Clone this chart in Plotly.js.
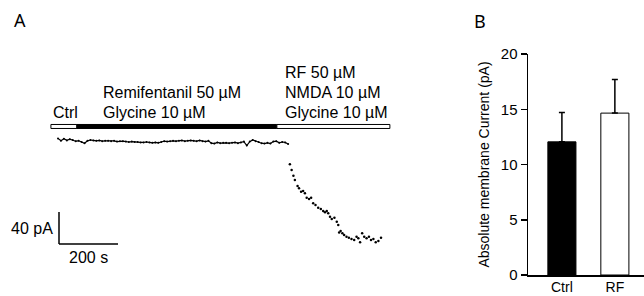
<!DOCTYPE html>
<html>
<head>
<meta charset="utf-8">
<script src="https://cdn.plot.ly/plotly-3.0.1.min.js"></script>
<style>html,body{margin:0;padding:0;background:#fff;}#chart{width:644px;height:296px;}</style>
</head>
<body>
<div id="chart"></div>
<script>
// ---------- Panel A data: whole-cell current trace ----------
// baseline (Ctrl + Remifentanil/Glycine) period, time in s, current in pA
const baselineTime = [0,10,20,30,40,50,60,70,80,90,100,110,120,130,140,150,160,170,180,190,200,210,220,230,240,250,260,270,280,290,300,310,320,330,340,350,360,370,380,390,400,410,420,430,440,450,460,470,480,490,500,510,520,530,540,550,560,570,580,590,600,610,620,630,640,650,660,670,680,690,700,710,720,730,740,750,760,770,780];
const baselineCurrent = [2,-1,1.5,-0.5,1,0,-1.5,-1,-2.5,-4,-1,0,-0.5,-1,-0.5,-1.5,-1,-1,-1.5,-1,-2,-1.5,-1.5,-2,-2.5,-2,-2.5,-2.5,-3,-3,-2.5,-3,-3.5,-3,-3.5,-2.5,-1.5,-2,-1.5,-1,-1.5,-1,-0.5,-1.5,-1,-0.5,-1,-1.5,-0.5,-1.5,-2,-1,-4,-4.5,-3,-4,-3.5,-3.5,-4,-3.5,-3,-4,-3,-2,-7,-2,0,-1.5,-2.5,-4,-4.5,-3.5,-4.5,-2,-1.5,-3.5,-2.5,-3,-5];
// RF + NMDA + Glycine period
const nmdaTime = [786,792,798,803,812,817,824,831,837,843,851,858,865,873,882,891,899,905,911,916,922,928,937,945,950,953,958,964,970,978,986,995,1004,1012,1018,1024,1031,1038,1046,1054,1061,1069,1077,1086,1095];
const nmdaCurrent = [-30.4,-37.5,-44.6,-50,-57.5,-60.4,-64.6,-63.8,-66.6,-72.1,-73.8,-72.1,-79.1,-81.3,-84.6,-86.3,-88.8,-90.4,-88.8,-91.6,-95.9,-98.8,-97.1,-102.1,-106.3,-115.6,-113.8,-116.6,-118.8,-120.9,-122.1,-123.8,-125,-120.9,-122.9,-127.9,-116.6,-120.9,-122.9,-120.9,-125,-123.8,-127.9,-126.3,-122.1];

// drug application periods (s)
const periodStart = [-24, 64, 742];
const periodEnd = [64, 742, 1125];
const periodLabels = ['Ctrl', 'Remifentanil 50 µM<br>Glycine 10 µM', 'RF 50 µM<br>NMDA 10 µM<br>Glycine 10 µM'];
const periodFilled = [false, true, false];

// scale bar
const scaleTime = 200;      // s
const scaleCurrent = 40;    // pA
const scaleTimeLabel = '200 s';
const scaleCurrentLabel = '40 pA';

// ---------- Panel B data ----------
const groups = ['Ctrl', 'RF'];
const meanCurrent = [12.05, 14.65];
const semCurrent = [2.65, 3.05];
const yTicks = [0, 5, 10, 15, 20];

// ---------- layout geometry ----------
const W = 644, H = 296;
const spp = 200 / 59;          // seconds per pixel in panel A
const ppa = 1.25;              // pA per pixel in panel A
const x0px = 58, y0px = 140;   // pixel of t=0, I=0
const aRight = 425;
const fontA = 'Liberation Sans, Arial, sans-serif';

const barY0 = 14.4, barY1 = 19.4;
const labelX = [-23.7, 145.8, 762.7];
const labelBaseY = 35, labelStep = 24.4;
const sbX = 3.4, sbTopY = -90;

const shapes = [];
periodStart.forEach((s, i) => {
  shapes.push({type: 'rect', xref: 'x', yref: 'y', x0: s, x1: periodEnd[i], y0: barY0, y1: barY1,
    fillcolor: periodFilled[i] ? '#000' : '#fff', line: {color: '#000', width: 1}});
});
shapes.push({type: 'line', xref: 'x', yref: 'y', x0: sbX, x1: sbX, y0: sbTopY, y1: sbTopY - scaleCurrent, line: {color: '#000', width: 1.5}});
shapes.push({type: 'line', xref: 'x', yref: 'y', x0: sbX, x1: sbX + scaleTime, y0: sbTopY - scaleCurrent, y1: sbTopY - scaleCurrent, line: {color: '#000', width: 1.5}});

const annotations = [];
periodLabels.forEach((lab, i) => {
  const lines = lab.split('<br>').reverse();
  lines.forEach((ln, k) => {
    annotations.push({xref: 'x', yref: 'y', x: labelX[i], y: labelBaseY + k * labelStep, text: ln,
      showarrow: false, xanchor: 'left', yanchor: 'middle', font: {family: fontA, size: 16, color: '#000'}});
  });
});
annotations.push({xref: 'x', yref: 'y', x: sbX, y: sbTopY - scaleCurrent / 2, text: scaleCurrentLabel, showarrow: false,
  xanchor: 'right', yanchor: 'middle', xshift: -4, font: {family: fontA, size: 16, color: '#000'}});
annotations.push({xref: 'x', yref: 'y', x: sbX + scaleTime / 2, y: sbTopY - scaleCurrent, text: scaleTimeLabel, showarrow: false,
  xanchor: 'center', yanchor: 'top', yshift: -3, font: {family: fontA, size: 16, color: '#000'}});
annotations.push({xref: 'paper', yref: 'paper', x: 19.5 / W, y: 1 - 20 / H, text: 'A', showarrow: false,
  xanchor: 'center', yanchor: 'middle', font: {family: 'Noto Sans, sans-serif', size: 18, color: '#000'}});
annotations.push({xref: 'paper', yref: 'paper', x: 480.5 / W, y: 1 - 20.5 / H, text: 'B', showarrow: false,
  xanchor: 'center', yanchor: 'middle', font: {family: 'Noto Sans, sans-serif', size: 18, color: '#000'}});

const traces = [
  {x: baselineTime, y: baselineCurrent, type: 'scatter', mode: 'lines+markers', xaxis: 'x', yaxis: 'y',
   line: {color: '#000', width: 1.2}, marker: {color: '#000', size: 2}, hoverinfo: 'skip', showlegend: false},
  {x: nmdaTime, y: nmdaCurrent, type: 'scatter', mode: 'markers', xaxis: 'x', yaxis: 'y',
   marker: {color: '#000', size: 2.5}, hoverinfo: 'skip', showlegend: false},
  {x: groups, y: meanCurrent, type: 'bar', xaxis: 'x2', yaxis: 'y2', width: 0.53,
   marker: {color: ['#000', '#fff'], line: {color: '#000', width: 1}},
   error_y: {type: 'data', symmetric: false, array: semCurrent, arrayminus: [0, 0], color: '#000', thickness: 1.5, width: 3},
   showlegend: false}
];

const layout = {
  width: W, height: H,
  margin: {l: 0, r: 0, t: 0, b: 0},
  paper_bgcolor: '#fff', plot_bgcolor: '#fff',
  showlegend: false,
  xaxis: {domain: [0, aRight / W], range: [-x0px * spp, (aRight - x0px) * spp], visible: false, fixedrange: true},
  yaxis: {domain: [0, 1], range: [(y0px - H) * ppa, y0px * ppa], visible: false, fixedrange: true},
  xaxis2: {domain: [528 / W, 1], range: [-0.64, 1.55], anchor: 'y2', showgrid: false, zeroline: false,
    showline: true, linecolor: '#000', linewidth: 1.5, ticks: '', ticklabelstandoff: -1,
    tickfont: {family: fontA, size: 14, color: '#000'}},
  yaxis2: {domain: [1 - 275 / H, 1 - 54 / H], range: [0, 20], anchor: 'x2', showgrid: false, zeroline: false,
    showline: true, linecolor: '#000', linewidth: 1.5, ticks: 'outside', ticklen: 6, tickwidth: 1.5, tickcolor: '#000',
    tickvals: yTicks, tickfont: {family: fontA, size: 15, color: '#000'},
    title: {text: 'Absolute membrane Current (pA)', standoff: 8, font: {family: fontA, size: 14, color: '#000'}}},
  shapes: shapes,
  annotations: annotations
};

Plotly.newPlot('chart', traces, layout, {displayModeBar: false, staticPlot: true});
</script>
</body>
</html>
